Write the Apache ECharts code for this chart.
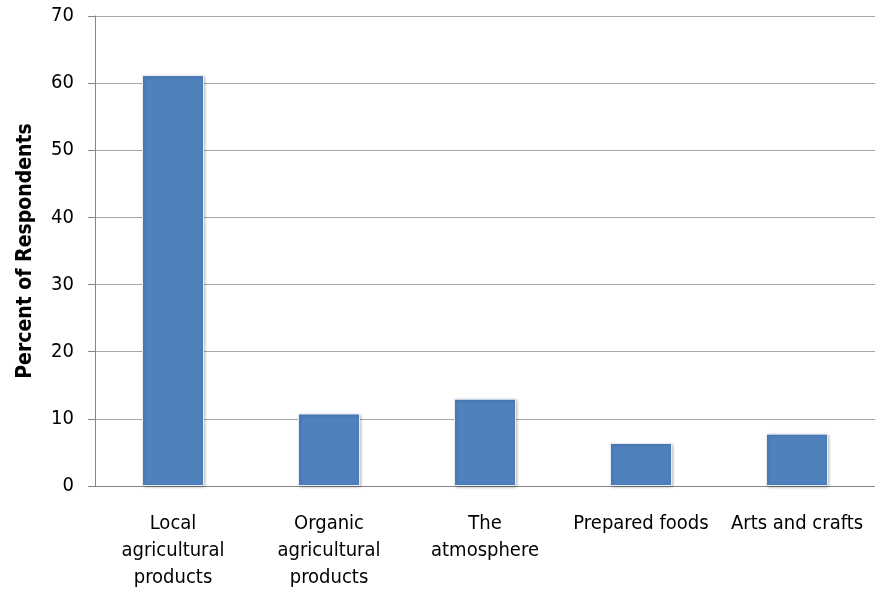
<!DOCTYPE html>
<html>
<head>
<meta charset="utf-8">
<script src="https://cdn.jsdelivr.net/npm/echarts@6/dist/echarts.min.js"></script>
<style>
  html, body { margin: 0; padding: 0; background: #fff; }
  #chart { width: 875px; height: 594px; }
</style>
</head>
<body>
<div id="chart"></div>
<script>
// Reasons for visiting the market, share of respondents
const categories = [
  'Local\nagricultural\nproducts',
  'Organic\nagricultural\nproducts',
  'The\natmosphere',
  'Prepared foods',
  'Arts and crafts'
];
const percents = [61.2, 10.8, 13.0, 6.4, 7.8];
const yTicks = { min: 0, max: 70, step: 10 };
const yTitle = 'Percent of Respondents';

const FONT = "'DejaVu Sans Condensed', Roboto, sans-serif";

const chart = echarts.init(document.getElementById('chart'));
chart.setOption({
  animation: false,
  grid: { left: 95, right: -6, top: 16, bottom: 108 },
  xAxis: {
    type: 'category',
    data: categories,
    axisLine: { lineStyle: { color: '#868686', width: 1 } },
    axisTick: { show: false },
    axisLabel: {
      interval: 0,
      margin: 24,
      color: '#000',
      fontFamily: FONT,
      fontSize: 20,
      lineHeight: 27
    }
  },
  yAxis: {
    type: 'value',
    min: yTicks.min,
    max: yTicks.max,
    interval: yTicks.step,
    name: yTitle,
    nameLocation: 'middle',
    nameGap: 59,
    nameTextStyle: { color: '#000', fontFamily: FONT, fontSize: 21, fontWeight: 'bold' },
    axisLine: { show: true, lineStyle: { color: '#868686' } },
    axisTick: { show: true, length: 7, lineStyle: { color: '#868686' } },
    axisLabel: { color: '#000', fontFamily: FONT, fontSize: 20, margin: 21 },
    splitLine: { lineStyle: { color: '#a6a6a6', width: 1 } }
  },
  series: [{
    type: 'bar',
    data: percents,
    barWidth: 62,
    itemStyle: {
      color: '#4f81bd',
      borderColor: '#e8eef7',
      borderWidth: 1,
      shadowColor: 'rgba(0,0,0,0.25)',
      shadowBlur: 3,
      shadowOffsetX: 1,
      shadowOffsetY: 1
    }
  }]
});
</script>
</body>
</html>
